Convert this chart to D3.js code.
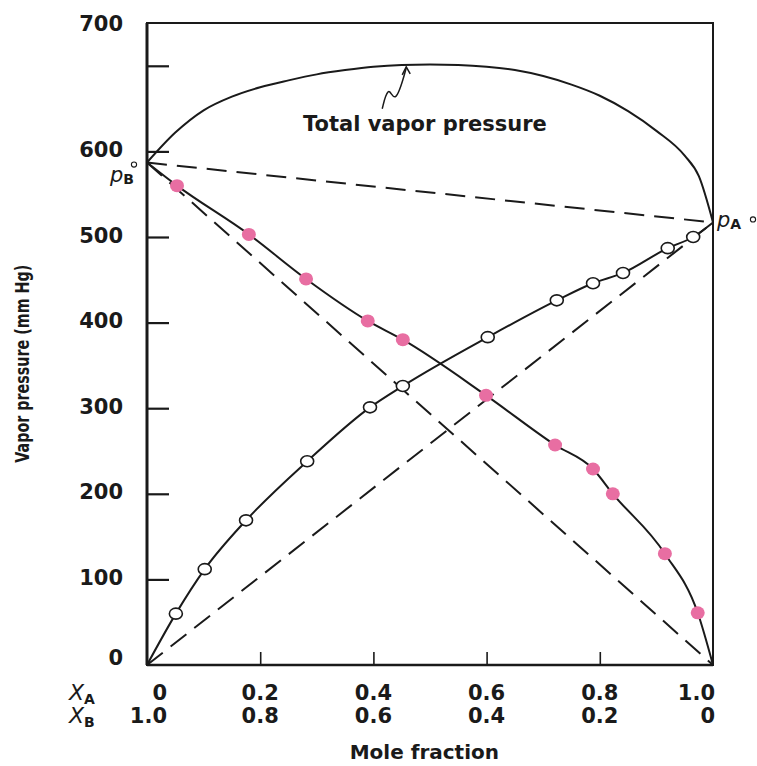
<!DOCTYPE html>
<html>
<head>
<meta charset="utf-8">
<script src="https://cdn.jsdelivr.net/npm/d3@7"></script>
<style>
  body { margin: 0; background: #fff; }
  svg { display: block; }
</style>
</head>
<body>
<div id="chart"></div>
<script>
// ============================================
// Vapor pressure vs mole fraction (D3.js)
// ============================================

// axis ticks / labels
const xTicks = [0, 0.2, 0.4, 0.6, 0.8, 1.0];
const xALabels = ['0', '0.2', '0.4', '0.6', '0.8', '1.0'];
const xBLabels = ['1.0', '0.8', '0.6', '0.4', '0.2', '0'];
const yTicks = [0, 100, 200, 300, 400, 500, 600, 700];
const yLabels = ['0', '100', '200', '300', '400', '500', '600', '700'];

// pure component vapor pressures (mm Hg)
const pA0 = 517;
const pB0 = 587;

// partial pressure of A (open circles), x = X_A
const pAFrac = [0.051, 0.102, 0.175, 0.283, 0.394, 0.452, 0.602, 0.724, 0.788, 0.841, 0.920, 0.965];
const pAVals = [60, 112, 169, 238, 301, 326, 383, 426, 446, 458, 487, 500];

// partial pressure of B (pink dots), x = X_A
const pBFrac = [0.053, 0.180, 0.281, 0.390, 0.452, 0.599, 0.721, 0.788, 0.823, 0.915, 0.973];
const pBVals = [560, 503, 451, 402, 380, 315, 257, 229, 200, 130, 61];

// total vapor pressure curve
const totFrac = [0, 0.05, 0.1, 0.15, 0.2, 0.25, 0.3, 0.35, 0.4, 0.45, 0.5, 0.55, 0.6, 0.65, 0.7, 0.75, 0.8, 0.85, 0.9, 0.95, 0.975, 1.0];
const totVals = [587, 622, 648, 664, 675, 683, 690, 695, 699, 701, 701.5, 701, 699, 695, 688, 678, 665, 647, 624, 595, 571, 517];

const W = 757, H = 766;
const margin = {top: 23, right: 44, bottom: 101, left: 147};
const width = W - margin.left - margin.right;
const height = H - margin.top - margin.bottom;

const FONT = '"DejaVu Sans", Arial, sans-serif';
const PINK = '#e86ea2';
const INK = '#1a1a1a';

const svg = d3.select('#chart')
    .append('svg')
    .attr('width', W)
    .attr('height', H)
    .style('background', 'white');

const g = svg.append('g')
    .attr('transform', `translate(${margin.left},${margin.top})`);

const x = d3.scaleLinear().domain([0, 1]).range([0, width]);
const y = d3.scaleLinear().domain([0, 750]).range([height, 0]);

// frame
g.append('rect')
    .attr('x', 0).attr('y', 0)
    .attr('width', width).attr('height', height)
    .attr('fill', 'none')
    .attr('stroke', INK)
    .attr('stroke-width', 2);
g.append('line')
    .attr('x1', 0).attr('x2', 0).attr('y1', 0).attr('y2', height)
    .attr('stroke', INK).attr('stroke-width', 3);
g.append('line')
    .attr('x1', 0).attr('x2', width).attr('y1', height).attr('y2', height)
    .attr('stroke', INK).attr('stroke-width', 2.5);

// Y ticks (inward)
const yAxis = g.append('g')
    .call(d3.axisRight(y).tickValues(yTicks.slice(1)).tickSize(22).tickFormat(''));
yAxis.select('.domain').remove();
yAxis.selectAll('line').attr('stroke', INK).attr('stroke-width', 2.2);

// Y tick labels (700 sits at the top of the frame, 0 a little above the axis)
g.selectAll('.ylab')
    .data(yTicks)
    .enter()
    .append('text')
    .attr('class', 'ylab')
    .attr('x', -24)
    .attr('y', (d, i) => {
        if (i === yTicks.length - 1) return y(750);
        if (d === 0) return y(0) - 8;
        return y(d) - 2;
    })
    .attr('dy', '0.36em')
    .attr('text-anchor', 'end')
    .style('font-family', FONT)
    .style('font-weight', 'bold')
    .style('font-size', '21px')
    .attr('fill', INK)
    .text((d, i) => yLabels[i]);

// X ticks (inward)
const xAxis = g.append('g')
    .attr('transform', `translate(0,${height})`)
    .call(d3.axisTop(x).tickValues(xTicks.slice(1, -1)).tickSize(13).tickFormat(''));
xAxis.select('.domain').remove();
xAxis.selectAll('line').attr('stroke', INK).attr('stroke-width', 1.6);

// X tick labels: two rows
const anchorFor = i => (i === 0 || i === xTicks.length - 1) ? 'end' : 'middle';
const offsetFor = i => i === 0 ? 20 : (i === xTicks.length - 1 ? 2 : 0);

[[xALabels, 35], [xBLabels, 58]].forEach(([labels, dy]) => {
    g.selectAll(null)
        .data(xTicks)
        .enter()
        .append('text')
        .attr('x', (d, i) => x(d) + offsetFor(i))
        .attr('y', height + dy)
        .attr('text-anchor', (d, i) => anchorFor(i))
        .style('font-family', FONT)
        .style('font-weight', 'bold')
        .style('font-size', '21px')
        .attr('fill', INK)
        .text((d, i) => labels[i]);
});

// X_A / X_B row labels
[['A', 35], ['B', 58]].forEach(([sub, dy]) => {
    const t = g.append('text')
        .attr('x', -78)
        .attr('y', height + dy)
        .style('font-family', FONT)
        .style('font-size', '22px')
        .attr('fill', INK);
    t.append('tspan').style('font-style', 'italic').text('X');
    t.append('tspan').attr('dy', 4).style('font-size', '14px').style('font-weight', 'bold').text(sub);
});

// axis titles
g.append('text')
    .attr('x', x(0.49))
    .attr('y', height + 94)
    .attr('text-anchor', 'middle')
    .style('font-family', FONT)
    .style('font-weight', 'bold')
    .style('font-size', '20px')
    .attr('fill', INK)
    .text('Mole fraction');

g.append('text')
    .attr('transform', `translate(${-125},${y(352)}) rotate(-90)`)
    .attr('dy', '0.35em')
    .attr('text-anchor', 'middle')
    .attr('textLength', 198)
    .attr('lengthAdjust', 'spacingAndGlyphs')
    .style('font-family', FONT)
    .style('font-weight', 'bold')
    .style('font-size', '20px')
    .attr('fill', INK)
    .text('Vapor pressure (mm Hg)');

// ideal (Raoult) dashed lines
const dashLines = [
    [[0, pB0], [1, pA0]],
    [[0, pB0], [1, 0]],
    [[0, 0], [1, pA0]]
];
const straight = d3.line().x(d => x(d[0])).y(d => y(d[1]));
dashLines.forEach(seg => {
    g.append('path')
        .attr('d', straight(seg))
        .attr('fill', 'none')
        .attr('stroke', INK)
        .attr('stroke-width', 2)
        .attr('stroke-dasharray', '20,10');
});

// smooth curves
const smooth = d3.line()
    .x(d => x(d[0]))
    .y(d => y(d[1]))
    .curve(d3.curveMonotoneX);

const pAPts = [[0, 0]].concat(pAFrac.map((f, i) => [f, pAVals[i]]), [[1, pA0]]);
const pBPts = [[0, pB0]].concat(pBFrac.map((f, i) => [f, pBVals[i]]), [[1, 0]]);
const totPts = totFrac.map((f, i) => [f, totVals[i]]);

[pAPts, pBPts, totPts].forEach(pts => {
    g.append('path')
        .datum(pts)
        .attr('d', smooth)
        .attr('fill', 'none')
        .attr('stroke', INK)
        .attr('stroke-width', 2);
});

// markers
g.selectAll('.pb')
    .data(pBFrac)
    .enter()
    .append('ellipse')
    .attr('class', 'pb')
    .attr('cx', d => x(d))
    .attr('cy', (d, i) => y(pBVals[i]))
    .attr('rx', 7)
    .attr('ry', 6.5)
    .attr('fill', PINK);

g.selectAll('.pa')
    .data(pAFrac)
    .enter()
    .append('ellipse')
    .attr('class', 'pa')
    .attr('cx', d => x(d))
    .attr('cy', (d, i) => y(pAVals[i]))
    .attr('rx', 6.5)
    .attr('ry', 5.5)
    .attr('fill', 'white')
    .attr('stroke', INK)
    .attr('stroke-width', 1.6);

// p°B and p°A labels
function pureLabel(px, py, sub, anchor) {
    const t = g.append('text')
        .attr('x', px)
        .attr('y', py)
        .attr('text-anchor', anchor)
        .style('font-family', FONT)
        .style('font-size', '21px')
        .attr('fill', INK);
    t.append('tspan').style('font-style', 'italic').text('p');
    t.append('tspan').attr('dy', 2).style('font-size', '14px').style('font-weight', 'bold').text(sub);
    return t;
}
function degree(cx, cy) {
    g.append('circle')
        .attr('cx', cx).attr('cy', cy).attr('r', 2.6)
        .attr('fill', 'none')
        .attr('stroke', INK)
        .attr('stroke-width', 1.1);
}
pureLabel(x(0) - 13, y(pB0) + 19, 'B', 'end');
degree(x(0) - 13, y(pB0) + 2);
pureLabel(x(1) + 4, y(pA0) + 5, 'A', 'start');
degree(x(1) + 40, y(pA0) - 3);

// annotation for total vapor pressure
const tip = [x(0.458), y(700) + 1];
const ann = g.append('g').attr('transform', `translate(${tip[0]},${tip[1]})`);
ann.append('path')
    .attr('d', 'M-24,42 C-22,34 -21,28 -18,25 C-16,23 -14,31 -11,30 C-7,28 -3,12 0,1')
    .attr('fill', 'none')
    .attr('stroke', INK)
    .attr('stroke-width', 1.5);
ann.append('path')
    .attr('d', 'M-4,8 L0,0 L4,7')
    .attr('fill', 'none')
    .attr('stroke', INK)
    .attr('stroke-width', 1.5);

g.append('text')
    .attr('x', 303 - margin.left)
    .attr('y', 131 - margin.top)
    .style('font-family', FONT)
    .style('font-weight', 'bold')
    .style('font-size', '21px')
    .attr('fill', INK)
    .text('Total vapor pressure');
</script>
</body>
</html>
